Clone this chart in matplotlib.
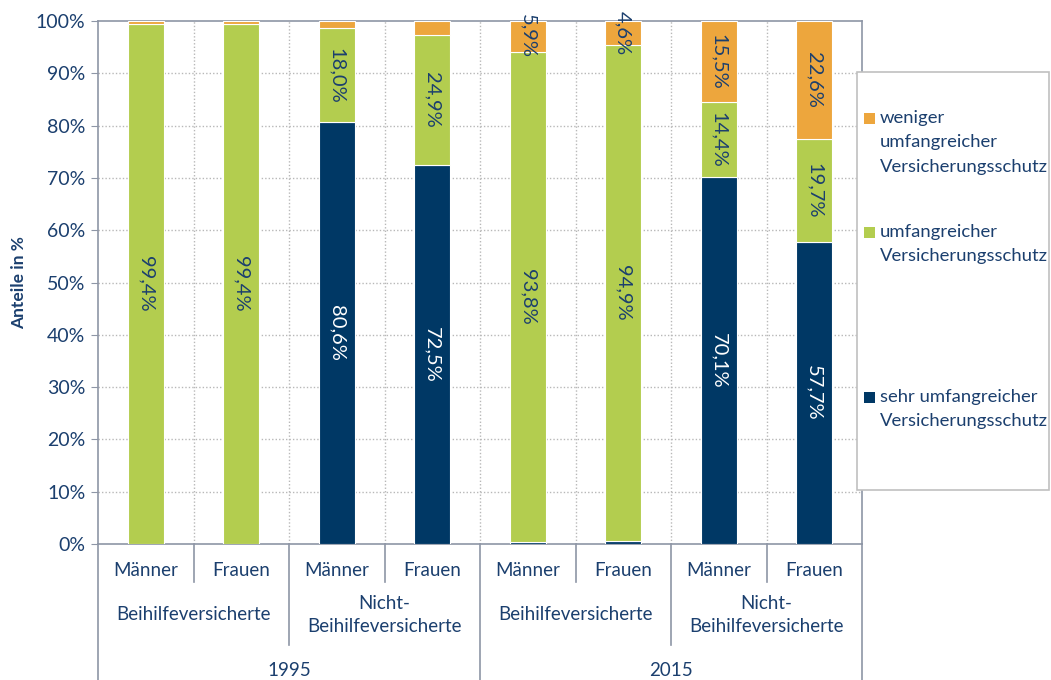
import matplotlib.pyplot as plt
from matplotlib.patches import Rectangle
import numpy as np

plt.rcParams['font.family'] = ['Lato', 'DejaVu Sans']

geschlecht = ['Männer', 'Frauen'] * 4
gruppen = ['Beihilfeversicherte', 'Nicht-\nBeihilfeversicherte'] * 2
jahre = ['1995', '2015']

sehr = [0.0, 0.0, 80.6, 72.5, 0.3, 0.5, 70.1, 57.7]
umf = [99.4, 99.4, 18.0, 24.9, 93.8, 94.9, 14.4, 19.7]
weniger = [0.6, 0.6, 1.4, 2.6, 5.9, 4.6, 15.5, 22.6]

legend_labels = ['weniger\numfangreicher\nVersicherungsschutz',
                 'umfangreicher\nVersicherungsschutz',
                 'sehr umfangreicher\nVersicherungsschutz']

c_dark = '#003865'
c_green = '#b3cd4f'
c_orange = '#eda63d'
c_text = '#1b3f6e'
c_axis = '#8e96a6'

W, H = 1051, 680
fig = plt.figure(figsize=(W / 100, H / 100), dpi=100)
L, R, T, B = 98, 862, 21, 544
ax = fig.add_axes([L / W, 1 - B / H, (R - L) / W, (B - T) / H])

x = np.arange(len(sehr))
bw = 0.38
ax.bar(x, sehr, bw, color=c_dark, edgecolor='white', linewidth=0.8, zorder=3)
ax.bar(x, umf, bw, bottom=sehr, color=c_green, edgecolor='white', linewidth=0.8, zorder=3)
bot2 = np.array(sehr) + np.array(umf)
ax.bar(x, weniger, bw, bottom=bot2, color=c_orange, edgecolor='white', linewidth=0.8, zorder=3)

def lab(v):
    return ('%.1f%%' % v).replace('.', ',')

fs_lab = 14.5
for i in range(len(x)):
    if sehr[i] >= 4:
        ax.text(x[i], sehr[i] / 2, lab(sehr[i]), rotation=270, ha='center', va='center',
                color='white', fontsize=fs_lab, zorder=4)
    if umf[i] >= 4:
        ax.text(x[i], sehr[i] + umf[i] / 2, lab(umf[i]), rotation=270, ha='center', va='center',
                color=c_text, fontsize=fs_lab, zorder=4)
    if weniger[i] >= 4:
        ax.text(x[i], bot2[i] + weniger[i] / 2, lab(weniger[i]), rotation=270, ha='center',
                va='center', color=c_text, fontsize=fs_lab, zorder=4)

ax.set_xlim(-0.5, 7.5)
ax.set_ylim(0, 100)
ax.set_yticks(np.arange(0, 101, 10))
ax.set_yticklabels(['%d%%' % v for v in range(0, 101, 10)], color=c_text, fontsize=14)
ax.tick_params(axis='y', length=5, color=c_axis, pad=4)
ax.set_xticks([])
ax.set_ylabel('Anteile in %', color=c_text, fontsize=12.5, fontweight='bold', labelpad=6)

for yv in range(10, 100, 10):
    ax.axhline(yv, color='#b8b8b8', linestyle=(0, (1, 1.5)), linewidth=1, zorder=1)
for xv in np.arange(0.5, 7, 1):
    ax.axvline(xv, color='#b8b8b8', linestyle=(0, (1, 1.5)), linewidth=1, zorder=1)

for s in ax.spines.values():
    s.set_color(c_axis)
    s.set_linewidth(1.2)

tr = ax.get_xaxis_transform()

def ay(py):
    return (B - py) / (B - T)

# multi-level category axis
fs_cat = 13.5
for i, g in enumerate(geschlecht):
    ax.text(x[i], ay(571), g, transform=tr, ha='center', va='center', color=c_text, fontsize=fs_cat)
for j, g in enumerate(gruppen):
    ax.text(2 * j + 0.5, ay(615), g, transform=tr, ha='center', va='center', color=c_text,
            fontsize=fs_cat, linespacing=1.45)
for k, jr in enumerate(jahre):
    ax.text(4 * k + 1.5, ay(670), jr, transform=tr, ha='center', va='center', color=c_text,
            fontsize=fs_cat)

for xv in [0.5, 2.5, 4.5, 6.5]:
    ax.plot([xv, xv], [0, ay(582)], transform=tr, color=c_axis, lw=1.2, clip_on=False)
for xv in [1.5, 5.5]:
    ax.plot([xv, xv], [0, ay(645)], transform=tr, color=c_axis, lw=1.2, clip_on=False)
for xv in [-0.5, 3.5, 7.5]:
    ax.plot([xv, xv], [0, ay(H + 5)], transform=tr, color=c_axis, lw=1.2, clip_on=False)

# legend box
fig.patches.append(Rectangle((857 / W, 1 - 490 / H), 192 / W, 418 / H, transform=fig.transFigure,
                             facecolor='white', edgecolor='#c0c0c0', lw=1.2, zorder=10))
leg_cols = [c_orange, c_green, c_dark]
leg_y = [118, 232, 397]
for lbl, col, py in zip(legend_labels, leg_cols, leg_y):
    fig.patches.append(Rectangle((864 / W, 1 - (py + 6) / H), 11 / W, 11 / H,
                                 transform=fig.transFigure, facecolor=col, zorder=11))
    fig.text(880 / W, 1 - (py - 8) / H, lbl, ha='left', va='top', color=c_text, fontsize=13.3,
             linespacing=1.65, zorder=11)

fig.savefig('out.png', dpi=100)
